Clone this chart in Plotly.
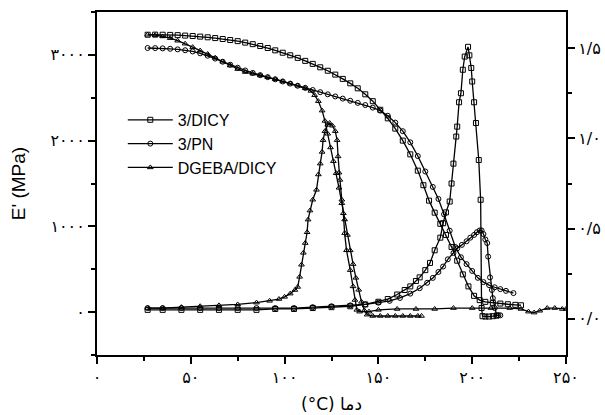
import plotly.graph_objects as go

# ---------------- data ----------------
# Storage modulus E' (MPa), left axis
T_E_dicy = [27, 31, 35, 39, 43, 47, 51, 55, 59, 63, 67, 71, 75, 79, 83, 87, 91, 95, 99, 103, 107, 111, 115,
            119, 123, 127, 131, 135, 139, 143, 147, 151, 155, 159, 163, 167, 171, 174, 177, 180, 183, 186,
            189, 192, 195, 198, 201, 204, 207, 211, 215, 219, 223, 226]
E_dicy = [3235, 3236, 3235, 3233, 3230, 3225, 3220, 3213, 3205, 3196, 3185, 3173, 3160, 3143, 3125, 3103,
          3080, 3053, 3025, 2995, 2965, 2930, 2895, 2855, 2815, 2770, 2720, 2668, 2610, 2540, 2460, 2360,
          2260, 2140, 2000, 1840, 1650, 1480, 1300, 1160, 1030, 900, 760, 600, 440, 300, 190, 140, 120,
          108, 100, 92, 85, 80]

T_E_pn = [27, 31, 35, 39, 43, 47, 51, 55, 59, 63, 67, 71, 75, 79, 83, 87, 91, 95, 99, 103, 107, 111, 115,
          119, 123, 127, 131, 135, 139, 143, 147, 151, 155, 159, 163, 167, 171, 175, 179, 182, 185, 188,
          191, 194, 197, 200, 203, 206, 209, 212, 215, 218, 222]
E_pn = [3080, 3079, 3076, 3071, 3064, 3054, 3040, 3018, 2990, 2957, 2920, 2885, 2850, 2818, 2790, 2764,
        2740, 2715, 2690, 2665, 2640, 2615, 2590, 2565, 2540, 2515, 2490, 2465, 2440, 2415, 2385, 2350,
        2290, 2210, 2110, 1980, 1820, 1640, 1460, 1320, 1140, 950, 760, 640, 560, 480, 400, 350, 315,
        290, 268, 248, 222]

T_E_dgeba = [27, 31, 35, 39, 43, 47, 51, 55, 59, 63, 67, 71, 75, 79, 83, 87, 91, 95, 99, 103, 107, 111,
             114, 116, 118, 120, 121.5, 123, 124.5, 126, 127.5, 129, 130.5, 132, 133.5, 135, 136.5, 138,
             139.5, 141, 142.5, 144, 147, 151, 155, 159, 163, 167, 171, 173]
E_dgeba = [3235, 3230, 3215, 3195, 3165, 3130, 3090, 3050, 3010, 2965, 2920, 2875, 2835, 2800, 2780, 2760,
           2740, 2715, 2690, 2665, 2640, 2610, 2580, 2530, 2460, 2350, 2230, 2080, 1920, 1760, 1620, 1450,
           1270, 1080, 900, 720, 560, 400, 260, 120, 20, -30, -45, -45, -45, -45, -45, -45, -45, -45]

# Loss factor (tan delta), right axis
T_tan_dicy = [27, 35, 45, 55, 65, 75, 85, 95, 105, 115, 125, 135, 143, 150, 155, 160, 164, 167, 170, 172,
              175, 177.5, 180, 183, 184.5, 186, 188, 189, 190, 191.5, 192, 193, 194, 195, 196, 197.8, 198.5,
              199.5, 200, 201, 202, 203.5, 204.5, 205, 205.5, 207, 209, 211, 213]
tan_dicy = [0.05, 0.05, 0.05, 0.05, 0.05, 0.05, 0.05, 0.055, 0.055, 0.06, 0.065, 0.07, 0.08, 0.095, 0.11,
            0.135, 0.16, 0.18, 0.21, 0.23, 0.27, 0.31, 0.38, 0.45, 0.53, 0.59, 0.65, 0.75, 0.86, 1.01,
            1.065, 1.2, 1.25, 1.38, 1.453, 1.507, 1.46, 1.39, 1.315, 1.2, 1.085, 0.88, 0.66, 0.06, 0.015,
            0.013, 0.013, 0.015, 0.018]

T_tan_pn = [27, 35, 45, 55, 65, 75, 85, 95, 105, 115, 125, 135, 143, 150, 156, 161.5, 167, 172, 176, 179,
            182, 184.5, 187, 190, 192, 194.5, 197, 199, 201, 202.5, 204, 205, 206, 207, 208, 208.5, 209.5,
            210.5, 211, 212, 213, 214, 215]
tan_pn = [0.06, 0.06, 0.06, 0.06, 0.06, 0.06, 0.06, 0.06, 0.06, 0.065, 0.07, 0.075, 0.08, 0.09, 0.1, 0.116,
          0.14, 0.17, 0.2, 0.227, 0.26, 0.29, 0.33, 0.365, 0.39, 0.41, 0.43, 0.45, 0.465, 0.48, 0.49, 0.49,
          0.47, 0.44, 0.42, 0.345, 0.23, 0.16, 0.115, 0.06, 0.02, 0.02, 0.02]

T_tan_dgeba = [27, 35, 45, 55, 65, 75, 85, 92, 97, 100, 103, 105.5, 107, 108, 109, 110, 111, 112, 112.5,
               113.5, 115, 117, 118, 119, 120, 120.5, 121.5, 123, 124, 125.5, 127, 128, 128.5, 129, 129.5,
               130.5, 131.3, 132, 133, 135, 136.5, 137.5, 138.5, 140, 145, 150, 160, 170, 180, 190, 200,
               210, 220, 226, 230, 233, 236, 240, 244, 248, 250]
tan_dgeba = [0.06, 0.06, 0.065, 0.07, 0.075, 0.08, 0.09, 0.1, 0.11, 0.122, 0.14, 0.16, 0.177, 0.233, 0.3,
             0.366, 0.42, 0.48, 0.55, 0.6, 0.66, 0.715, 0.8, 0.86, 0.925, 0.99, 1.04, 1.075, 1.085, 1.07,
             1.04, 0.99, 0.9, 0.81, 0.77, 0.66, 0.585, 0.475, 0.38, 0.27, 0.18, 0.105, 0.05, 0.04, 0.04,
             0.05, 0.055, 0.055, 0.055, 0.06, 0.06, 0.06, 0.06, 0.055, 0.04, 0.035, 0.045, 0.06, 0.06,
             0.055, 0.055]

series_names = ["3/DICY", "3/PN", "DGEBA/DICY"]
symbols = ["square-open", "circle-open", "triangle-up-open"]

x_tickvals = [0, 50, 100, 150, 200, 250]
x_ticktext = ["۰", "۵۰", "۱۰۰", "۱۵۰", "۲۰۰", "۲۵۰"]
y_tickvals = [0, 1000, 2000, 3000]
y_ticktext = ["۰", "۱۰۰۰", "۲۰۰۰", "۳۰۰۰"]
y2_tickvals = [0, 0.5, 1.0, 1.5]
y2_ticktext = ["۰/۰", "۰/۵", "۱/۰", "۱/۵"]

# ---------------- figure ----------------
fig = go.Figure()
E_sets = [(T_E_dicy, E_dicy), (T_E_pn, E_pn), (T_E_dgeba, E_dgeba)]
tan_sets = [(T_tan_dicy, tan_dicy), (T_tan_pn, tan_pn), (T_tan_dgeba, tan_dgeba)]

for i, name in enumerate(series_names):
    mk = dict(symbol=symbols[i], size=5, color="black", line=dict(color="black", width=1))
    fig.add_trace(go.Scatter(x=E_sets[i][0], y=E_sets[i][1], mode="lines+markers", name=name,
                             legendgroup=name, line=dict(color="black", width=1.3), marker=mk,
                             yaxis="y"))
    fig.add_trace(go.Scatter(x=tan_sets[i][0], y=tan_sets[i][1], mode="lines+markers", name=name,
                             legendgroup=name, showlegend=False,
                             line=dict(color="black", width=1.3), marker=mk, yaxis="y2"))

tickfont = dict(family="DejaVu Sans", size=16, color="black")

fig.update_layout(
    width=605, height=415,
    margin=dict(l=97, r=39, t=12, b=60),
    paper_bgcolor="white", plot_bgcolor="white",
    showlegend=True,
    legend=dict(x=0.055, y=0.735, xanchor="left", yanchor="top", bgcolor="rgba(0,0,0,0)",
                font=dict(family="Liberation Sans", size=16, color="black"),
                itemwidth=45, tracegroupgap=0),
    xaxis=dict(range=[0, 250], tickvals=x_tickvals, ticktext=x_ticktext, tickfont=tickfont,
               automargin=False,
               showgrid=False, zeroline=False, showline=True, linecolor="black", linewidth=2,
               mirror=True, ticks="outside", ticklen=7, tickwidth=2, tickcolor="black",
               minor=dict(dtick=25, tick0=0, ticks="outside", ticklen=4, tickwidth=2, tickcolor="black"),
               title=dict(text="(°C) دما", font=dict(family="DejaVu Sans", size=17, color="black"),
                          standoff=12)),
    yaxis=dict(range=[-500, 3500], tickvals=y_tickvals, ticktext=y_ticktext, tickfont=tickfont,
               automargin=False,
               showgrid=False, zeroline=False, showline=True, linecolor="black", linewidth=2,
               ticks="outside", ticklen=7, tickwidth=2, tickcolor="black",
               minor=dict(dtick=500, tick0=0, ticks="outside", ticklen=4, tickwidth=2, tickcolor="black"),
               title=dict(text="E' (MPa)", font=dict(family="Liberation Sans", size=19, color="black"),
                          standoff=20)),
    yaxis2=dict(range=[-0.2, 1.7], overlaying="y", side="right", tickvals=y2_tickvals,
                ticktext=y2_ticktext, tickfont=tickfont, showgrid=False, zeroline=False,
                automargin=False,
                showline=True, linecolor="black", linewidth=2, ticks="outside", ticklen=7,
                tickwidth=2, tickcolor="black",
                minor=dict(dtick=0.25, tick0=0, ticks="outside", ticklen=4, tickwidth=2,
                           tickcolor="black")),
)

fig.write_html("out.html")
